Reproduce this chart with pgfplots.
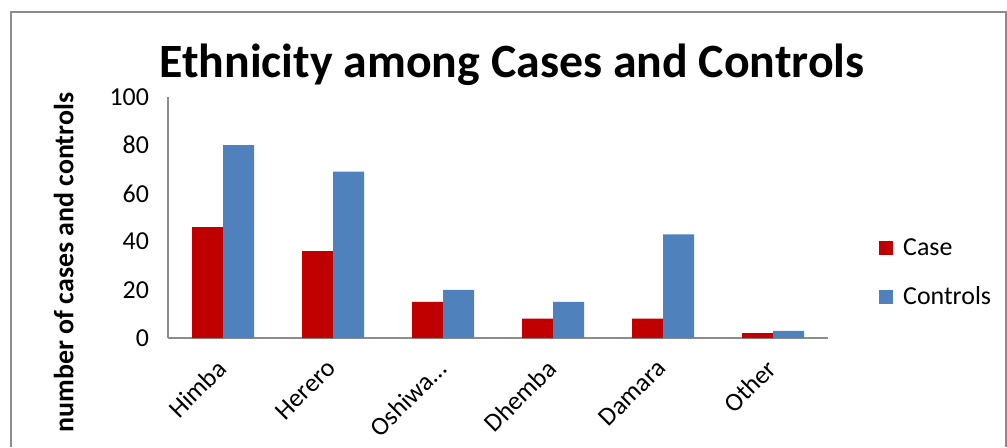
\documentclass[border=0pt]{standalone}
\usepackage{pgfplots}
\pgfplotsset{compat=1.18}
\usepackage{fontspec}
\setmainfont{Carlito}
\definecolor{casered}{HTML}{C00000}
\definecolor{ctrlblue}{HTML}{4F81BD}
\definecolor{framegray}{HTML}{8C8C8C}

\begin{document}
\begin{tikzpicture}[x=1bp,y=1bp]
  % page = 1007x447 px at 0.5bp per px
  \useasboundingbox (0,0) rectangle (503.5,223.5);
  \draw[framegray, line width=1.2bp] (5.5,0) -- (5.5,217.5) -- (503,217.5) -- (503,0);

  \node[font=\fontsize{24}{28}\selectfont\bfseries] at (256,191) {Ethnicity among Cases and Controls};

\begin{axis}[
  at={(84bp,54.5bp)}, anchor=south west,
  scale only axis,
  width=330bp, height=120.5bp,
  ybar=0pt,
  bar width=15.5bp,
  xmin=-0.5, xmax=5.5,
  ymin=0, ymax=100,
  xtick=data,
  xticklabels={Himba, Herero, Oshiwa\ldots, Dhemba, Damara, Other},
  ytick={0,20,...,100},
  axis x line=bottom,
  axis y line=left,
  axis line style={framegray, line width=1bp, -},
  major tick length=0pt,
  tick label style={font=\fontsize{13}{15}\selectfont},
  /pgf/number format/assume math mode=true,
  yticklabel style={xshift=-6bp},
  xticklabel style={rotate=45, anchor=north east, xshift=-6.3bp, yshift=-0.8bp},
  ylabel={number of cases and controls},
  ylabel style={font=\fontsize{14}{16}\selectfont\bfseries, at={(rel axis cs:-0.158,0.313)}, anchor=center},
  legend style={draw=none, fill=none, at={(rel axis cs:1.068,0.27)}, anchor=west,
    font=\fontsize{13}{15}\selectfont, row sep=10bp,
    /tikz/every even column/.append style={column sep=2bp}},
  legend cell align=left,
  legend image code/.code={\fill[#1] (0bp,-3.5bp) rectangle (7bp,3.5bp); \path (10bp,0) circle (0);},
]
\addplot[fill=casered, draw=none] coordinates {(0,46) (1,36) (2,15) (3,8) (4,8) (5,2)};
\addplot[fill=ctrlblue, draw=none] coordinates {(0,80) (1,69) (2,20) (3,15) (4,43) (5,3)};
\legend{Case, Controls}
\end{axis}
\end{tikzpicture}
\end{document}
